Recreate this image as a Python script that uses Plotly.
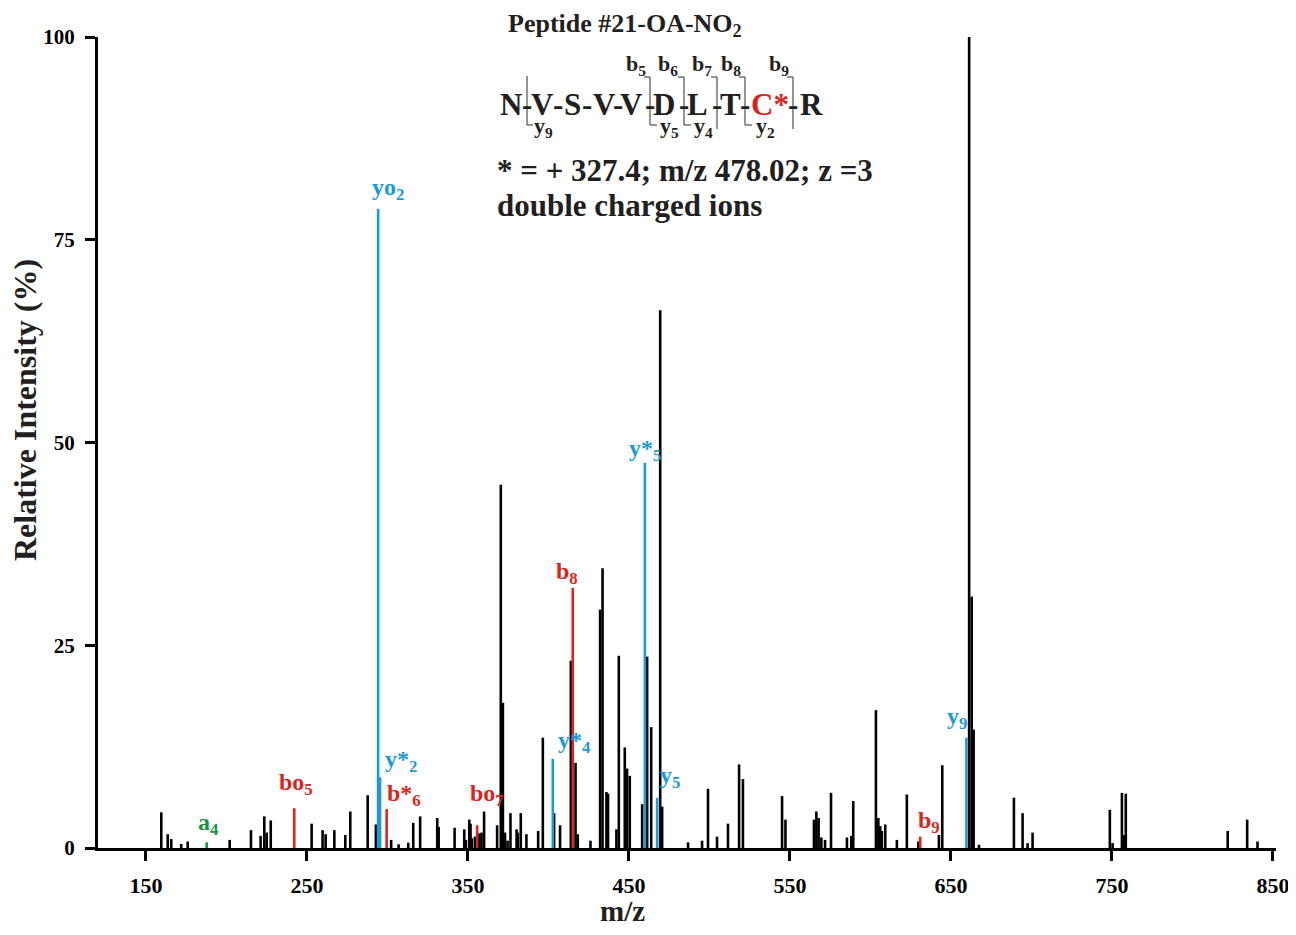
import plotly.graph_objects as go

# ---------------- data ----------------
black_mz = [159.5, 163.5, 165.7, 171.9, 175.9, 202.0, 215.2, 221.2, 223.5, 225.0, 227.5,
            252.9, 259.7, 261.6, 267.0, 273.8, 276.9, 287.7, 292.8, 302.3, 306.9, 312.9,
            316.0, 320.3, 330.9, 331.8, 341.7, 347.7, 348.7, 350.8, 351.6, 352.4, 354.3,
            357.0, 358.4, 360.0, 368.1, 370.4, 371.7, 373.0, 374.6, 376.4, 380.2, 381.0,
            382.8, 386.3, 393.6, 396.5, 403.5, 407.2, 413.9, 416.8, 418.2, 426.1, 432.1,
            433.6, 436.0, 437.0, 442.2, 443.7, 447.4, 448.8, 450.5, 458.2, 461.3, 463.8,
            469.4, 470.6, 486.7, 495.4, 499.1, 504.7, 511.5, 518.4, 520.8, 545.1, 547.2,
            564.9, 566.4, 567.8, 569.5, 571.8, 575.5, 585.4, 588.1, 589.3, 603.4, 604.9,
            606.1, 607.1, 609.2, 616.4, 622.6, 629.7, 642.5, 644.6, 661.3, 662.9, 664.1,
            667.4, 689.1, 694.5, 697.6, 700.7, 748.7, 750.4, 756.2, 757.4, 758.6, 821.9,
            834.0, 840.4]
black_int = [4.4, 1.7, 1.1, 0.5, 0.8, 1.0, 2.2, 1.5, 3.9, 1.9, 3.4,
             3.0, 2.2, 1.7, 2.2, 1.6, 4.5, 6.5, 2.9, 1.0, 0.45, 0.65,
             3.1, 3.9, 3.7, 2.6, 2.5, 2.3, 1.0, 3.5, 3.0, 1.2, 1.4,
             1.8, 1.9, 4.5, 2.8, 44.8, 17.9, 1.9, 0.9, 4.3, 2.3, 1.9,
             4.3, 1.7, 2.1, 13.6, 4.3, 2.8, 23.1, 10.5, 1.7, 0.9, 29.4,
             34.5, 6.9, 6.7, 2.3, 23.7, 12.4, 9.8, 8.9, 5.4, 23.6, 14.9,
             66.3, 5.1, 0.7, 0.9, 7.3, 1.4, 3.0, 10.3, 8.5, 6.4, 3.5,
             3.5, 4.5, 3.7, 1.3, 1.0, 6.8, 1.3, 1.5, 5.8, 17.0, 3.7,
             2.7, 2.1, 2.9, 1.0, 6.6, 0.8, 1.6, 10.2, 100.0, 31.0, 14.6,
             0.4, 6.2, 4.3, 0.6, 1.9, 4.7, 0.6, 6.8, 1.6, 6.7, 2.1,
             3.5, 0.8]

red_mz = [242.1, 299.5, 355.7, 415.1, 630.9]
red_int = [4.9, 4.8, 2.8, 32.1, 1.4]
red_labels = ["bo<sub>5</sub>", "b*<sub>6</sub>", "bo<sub>7</sub>", "b<sub>8</sub>", "b<sub>9</sub>"]

blue_mz = [294.2, 295.4, 402.7, 459.9, 467.5, 659.6]
blue_int = [78.8, 8.7, 11.0, 47.5, 6.2, 13.6]
blue_labels = ["yo<sub>2</sub>", "y*<sub>2</sub>", "y*<sub>4</sub>", "y*<sub>5</sub>", "y<sub>5</sub>", "y<sub>9</sub>"]

green_mz = [187.7]
green_int = [0.7]
green_labels = ["a<sub>4</sub>"]

x_ticks = [150, 250, 350, 450, 550, 650, 750, 850]
y_ticks = [0, 25, 50, 75, 100]

x_title = "m/z"
y_title = "Relative Intensity (%)"
title_text = "Peptide #21-OA-NO<sub>2</sub>"
residues = ["N", "V", "S", "V", "V", "D", "L", "T", "C*", "R"]
b_ions = ["b<sub>5</sub>", "b<sub>6</sub>", "b<sub>7</sub>", "b<sub>8</sub>", "b<sub>9</sub>"]
y_ions = ["y<sub>9</sub>", "y<sub>5</sub>", "y<sub>4</sub>", "y<sub>2</sub>"]
info_lines = ["* = + 327.4; m/z 478.02; z =3", "double charged ions"]

# ---------------- style ----------------
BLACK = "#000000"
BLUE = "#1b9ad7"
RED = "#d9261c"
GREEN = "#159447"
TXT = "#231f20"
FONT = "Liberation Serif"

OFF = 8  # page body margin
W, H = 1296 - 2 * OFF, 935 - 2 * OFF
# plot area in screen pixels
SL, SR, ST, SB = 98, 1276, 37, 848
ML, MR, MT, MB = SL - OFF, W - (SR - OFF), ST - OFF, H - (SB - OFF)
PW, PH = W - ML - MR, H - MT - MB


def px(x):
    return (x - SL) / PW


def py(y):
    return (SB - y) / PH


def sticks(mz, inten):
    xs, ys = [], []
    for m, v in zip(mz, inten):
        xs += [m, m, None]
        ys += [0, v, None]
    return xs, ys


fig = go.Figure()
for mz, it, col in [(black_mz, black_int, BLACK), (red_mz, red_int, RED),
                    (blue_mz, blue_int, BLUE), (green_mz, green_int, GREEN)]:
    xs, ys = sticks(mz, it)
    fig.add_trace(go.Scatter(x=xs, y=ys, mode="lines", line=dict(color=col, width=2.6),
                             hoverinfo="skip", showlegend=False))

annotations = []
# ion labels (offsets in px)
red_off = [(2, 24), (17, 14), (10, 30), (-6, 15), (9, 15)]
blue_off = [(10, 20), (21, 16), (22, 17), (0, 13), (13, 21), (-9, 20)]
green_off = [(2, 18)]
for mz, it, labs, offs, col in [(red_mz, red_int, red_labels, red_off, RED),
                                (blue_mz, blue_int, blue_labels, blue_off, BLUE),
                                (green_mz, green_int, green_labels, green_off, GREEN)]:
    for m, v, lab, (dx, dy) in zip(mz, it, labs, offs):
        annotations.append(dict(x=m, y=v, xref="x", yref="y", text="<b>%s</b>" % lab,
                                showarrow=False, xanchor="center", yanchor="middle",
                                xshift=dx, yshift=dy,
                                font=dict(family=FONT, size=24, color=col)))

# title
annotations.append(dict(x=px(506), y=py(25), xref="paper", yref="paper", text="<b>%s</b>" % title_text,
                        showarrow=False, xanchor="left", yanchor="middle",
                        font=dict(family=FONT, size=26, color=TXT)))

# peptide sequence tokens
res_x = [511, 542, 572, 604, 631, 664, 697, 730, 770, 811]
hyph_x = [527, 558, 587, 618, 650, 684, 717, 745, 793]
for r, x in zip(residues, res_x):
    if r == "C*":
        txt = "<b><span style='color:%s'>C*</span></b>" % RED
    else:
        txt = "<b>%s</b>" % r
    annotations.append(dict(x=px(x), y=py(104), xref="paper", yref="paper", text=txt,
                            showarrow=False, xanchor="center", yanchor="middle",
                            font=dict(family=FONT, size=31, color=TXT)))
for x in hyph_x:
    annotations.append(dict(x=px(x), y=py(104), xref="paper", yref="paper", text="<b>-</b>",
                            showarrow=False, xanchor="center", yanchor="middle",
                            font=dict(family=FONT, size=31, color=TXT)))

b_x = [636, 668, 702, 731, 779]
for t, x in zip(b_ions, b_x):
    annotations.append(dict(x=px(x), y=py(65), xref="paper", yref="paper", text="<b>%s</b>" % t,
                            showarrow=False, xanchor="center", yanchor="middle",
                            font=dict(family=FONT, size=22, color=TXT)))
y_x = [543, 669, 703, 765]
for t, x in zip(y_ions, y_x):
    annotations.append(dict(x=px(x), y=py(127), xref="paper", yref="paper", text="<b>%s</b>" % t,
                            showarrow=False, xanchor="center", yanchor="middle",
                            font=dict(family=FONT, size=22, color=TXT)))

for t, yy in zip(info_lines, [170, 205]):
    annotations.append(dict(x=px(495), y=py(yy), xref="paper", yref="paper", text="<b>%s</b>" % t,
                            showarrow=False, xanchor="left", yanchor="middle",
                            font=dict(family=FONT, size=31, color=TXT)))

# axis titles
annotations.append(dict(x=px(622), y=py(911), xref="paper", yref="paper", text="<b>%s</b>" % x_title,
                        showarrow=False, xanchor="center", yanchor="middle",
                        font=dict(family=FONT, size=29, color=TXT)))
annotations.append(dict(x=px(25), y=py(410), xref="paper", yref="paper", text="<b>%s</b>" % y_title,
                        showarrow=False, xanchor="center", yanchor="middle", textangle=-90,
                        font=dict(family=FONT, size=32, color=TXT)))

# bracket shapes
shapes = []
LC = "#4d4d4d"


def seg(x0, y0, x1, y1):
    shapes.append(dict(type="line", xref="paper", yref="paper", x0=px(x0), y0=py(y0),
                       x1=px(x1), y1=py(y1), line=dict(color=LC, width=1.2)))


# y9 bracket
seg(527, 76, 527, 125); seg(527, 125, 533, 125)
# b/y brackets: (x, has_y)
for x, has_y in [(650, True), (684, True), (717, False), (745, True), (793, False)]:
    seg(x - 6, 77, x, 77)
    seg(x, 77, x, 125 if has_y else 129)
    if has_y:
        seg(x, 125, x + 7, 125)

fig.update_layout(
    width=W, height=H,
    margin=dict(l=ML, r=MR, t=MT, b=MB, autoexpand=False),
    paper_bgcolor="white", plot_bgcolor="white",
    annotations=annotations, shapes=shapes,
    xaxis=dict(range=[120.2, 851.9], tickvals=x_ticks, ticks="outside", ticklen=10, tickwidth=3,
               tickcolor=BLACK, showline=True, linewidth=3, linecolor=BLACK, showgrid=False,
               zeroline=False, ticklabelstandoff=6, ticklabeloverflow="allow",
               tickfont=dict(family=FONT, size=22, color=BLACK, weight="bold")),
    yaxis=dict(range=[0, 100], tickvals=y_ticks, ticks="outside", ticklen=10, tickwidth=3,
               tickcolor=BLACK, showline=True, linewidth=3, linecolor=BLACK, showgrid=False,
               zeroline=False, ticklabelstandoff=6, ticklabeloverflow="allow",
               tickfont=dict(family=FONT, size=21, color=BLACK, weight="bold")),
)

fig.write_html("out.html")
